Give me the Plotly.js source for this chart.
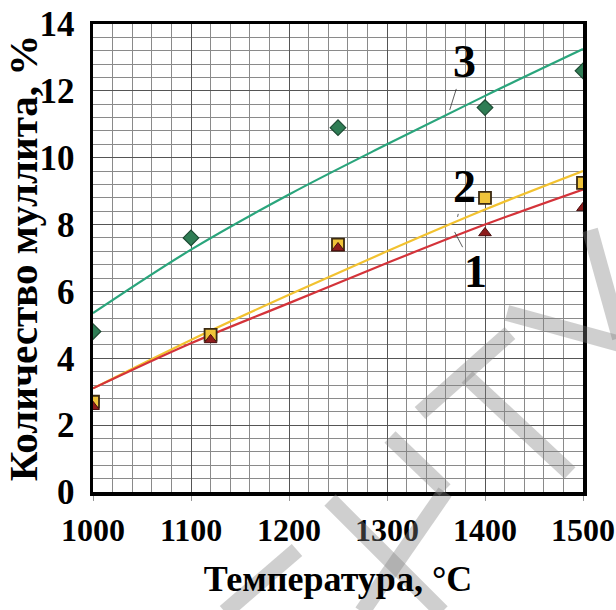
<!DOCTYPE html>
<html>
<head>
<meta charset="utf-8">
<script src="https://cdn.plot.ly/plotly-3.0.1.min.js"></script>
<style>html,body{margin:0;padding:0;background:#fff;}#chart{width:616px;height:610px;}</style>
</head>
<body>
<div id="chart"></div>
<script>
// Experimental points
const x1 = [1000, 1120, 1250, 1400, 1500];
const y1 = [2.55, 4.55, 7.3, 7.75, 8.5];       // curve 1 (red triangles)
const x2 = [1000, 1120, 1250, 1400, 1500];
const y2 = [2.7, 4.7, 7.4, 8.8, 9.25];         // curve 2 (yellow squares)
const x3 = [1000, 1100, 1250, 1400, 1500];
const y3 = [4.8, 7.6, 10.9, 11.5, 12.6];       // curve 3 (green diamonds)

// Trend lines
const trendX = [1000, 1100, 1200, 1300, 1400, 1500];
const trend1 = [3.1, 4.45, 5.65, 6.85, 8.0, 9.05];
const trend2 = [3.1, 4.55, 5.9, 7.2, 8.45, 9.6];
const trend3 = [5.35, 7.25, 8.9, 10.4, 11.85, 13.25];

const xTicks = [1000, 1100, 1200, 1300, 1400, 1500];
const yTicks = [0, 2, 4, 6, 8, 10, 12, 14];
const xTitle = 'Температура, °С';
const yTitle = 'Количество муллита, %';
const curveLabels = ['1', '2', '3'];

const serif = 'Liberation Serif';

const traces = [
  {x: trendX, y: trend3, mode: 'lines', line: {color: '#2aa57c', width: 2.2, shape: 'spline'}},
  {x: trendX, y: trend2, mode: 'lines', line: {color: '#f2c230', width: 2.2, shape: 'spline'}},
  {x: trendX, y: trend1, mode: 'lines', line: {color: '#d4333a', width: 2.2, shape: 'spline'}},
  {x: x2, y: y2, mode: 'markers', marker: {symbol: 'square', size: 12, color: '#f0c43a', line: {color: '#3b2a12', width: 1.8}}},
  {x: x1, y: y1, mode: 'markers', marker: {symbol: 'triangle-up', size: 11, color: '#8e1c1c', line: {color: '#4a1010', width: 1}}},
  {x: x3, y: y3, mode: 'markers', marker: {symbol: 'diamond', size: 12, color: '#2f7d55', line: {color: '#1c4a33', width: 1.2}}}
];

// Light "watermark" strokes (page decoration, in paper coordinates)
function P(px, py) { return [(px - 93) / 490, (492 - py) / 468]; }
const wm = [
  [[420,413],[510,333]],
  [[467,377],[570,473]],
  [[390,437],[445,490]],
  [[445,492],[362,612]],
  [[330,500],[442,612]],
  [[297,550],[225,612]],
  [[507,313],[620,344]],
  [[590,230],[620,338]]
];
const shapes = wm.map(s => {
  const a = P(s[0][0], s[0][1]), b = P(s[1][0], s[1][1]);
  return {type: 'line', xref: 'paper', yref: 'paper', x0: a[0], y0: a[1], x1: b[0], y1: b[1],
          line: {color: 'rgba(130,130,130,0.38)', width: 16}, layer: 'above'};
});

const annFont = {family: serif, size: 46, color: '#000', weight: 'bold'};
const annotations = [
  {x: 1364, y: 11.43, text: curveLabels[2], ax: 15, ay: -48},
  {x: 1372, y: 8.23, text: curveLabels[1], ax: 7, ay: -30},
  {x: 1369, y: 7.78, text: curveLabels[0], ax: 21, ay: 40}
].map(a => Object.assign(a, {xref: 'x', yref: 'y', showarrow: true, arrowhead: 0, arrowwidth: 0.8,
  arrowcolor: '#333', font: annFont, standoff: 0}));

const layout = {
  width: 616, height: 610,
  margin: {l: 93, r: 33, t: 24, b: 118},
  paper_bgcolor: '#fff', plot_bgcolor: '#fff',
  showlegend: false, hovermode: false,
  font: {family: serif, color: '#000'},
  xaxis: {
    range: [1000, 1500], tickvals: xTicks, ticktext: xTicks.map(String),
    tickfont: {family: serif, size: 32, color: '#000', weight: 'bold'},
    ticks: 'outside', ticklen: 5, tickcolor: '#999', tickwidth: 1,
    ticklabeloverflow: 'allow', ticklabelstandoff: 2,
    showgrid: true, gridcolor: '#555', gridwidth: 1,
    minor: {dtick: 20, showgrid: true, gridcolor: '#8a8a8a', gridwidth: 1},
    showline: true, linecolor: '#000', linewidth: 3.5, mirror: true, zeroline: false,
    title: {text: xTitle, font: {family: serif, size: 36, color: '#000', weight: 'bold'}, standoff: 20}
  },
  yaxis: {
    range: [0, 14], tickvals: yTicks, ticktext: yTicks.map(String),
    tickfont: {family: serif, size: 35, color: '#000', weight: 'bold'},
    ticks: '', ticklabelstandoff: 8, ticklabeloverflow: 'allow',
    showgrid: true, gridcolor: '#555', gridwidth: 1,
    minor: {dtick: 0.4, showgrid: true, gridcolor: '#8a8a8a', gridwidth: 1},
    showline: true, linecolor: '#000', linewidth: 3.5, mirror: true, zeroline: false,
    title: {text: yTitle, font: {family: serif, size: 41, color: '#000', weight: 'bold'}, standoff: 4}
  },
  shapes: shapes,
  annotations: annotations
};

Plotly.newPlot('chart', traces, layout, {displayModeBar: false, staticPlot: true});
</script>
</body>
</html>
